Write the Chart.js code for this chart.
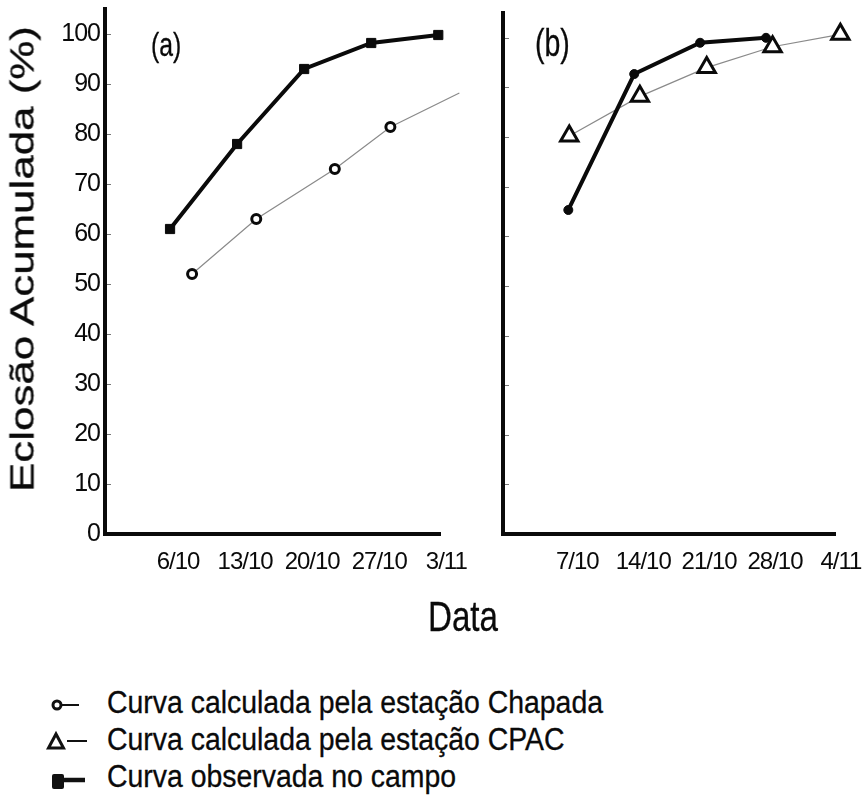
<!DOCTYPE html>
<html><head><meta charset="utf-8">
<script src="https://cdn.jsdelivr.net/npm/chart.js@4.4.1/dist/chart.umd.min.js"></script>
<style>
html,body{margin:0;padding:0;background:#fff;}
#wrap{position:relative;width:865px;height:798px;overflow:hidden;font-family:'Liberation Sans',Arial,sans-serif;color:#0a0a0a;}
canvas{position:absolute;top:0;}
#ca{left:0;width:480px;height:600px;}
#cb{left:480px;width:385px;height:600px;}
.lbl{position:absolute;white-space:nowrap;line-height:1;-webkit-text-stroke:0.3px #0a0a0a;}
#ytitle{font-size:33px;left:22px;top:259px;transform:translate(-50%,-50%) rotate(-90deg) scaleX(1.33);}
.leg{position:absolute;left:0;height:36px;width:700px;}
.leg svg{position:absolute;left:30px;top:0;}
.leg span{position:absolute;left:107px;top:0;font-size:31px;line-height:1;white-space:nowrap;transform-origin:0 0;-webkit-text-stroke:0.3px #0a0a0a;}
</style></head><body>
<div id="wrap">
 <canvas id="ca" width="480" height="600"></canvas>
 <canvas id="cb" width="385" height="600"></canvas>
 <div id="ytitle" class="lbl">Eclosão Acumulada (%)</div>
 <div class="lbl" style="left:151px;top:28px;font-size:33px;transform:scaleX(0.75);transform-origin:0 0">(a)</div>
 <div class="lbl" style="left:535px;top:24px;font-size:38px;transform:scaleX(0.75);transform-origin:0 0">(b)</div>
 <div class="lbl" style="left:463px;top:596px;font-size:42px;transform:translateX(-50%) scaleX(0.79)">Data</div>
 <div class="leg" style="top:687px"><svg width="70" height="36"><circle cx="27" cy="18" r="4" fill="#fff" stroke="#111" stroke-width="3"/><line x1="32" y1="18" x2="49" y2="18" stroke="#111" stroke-width="2"/></svg><span>Curva calculada pela estação Chapada</span></div>
 <div class="leg" style="top:724px"><svg width="70" height="36"><polygon points="26,10 33.5,24 18.5,24" fill="#fff" stroke="#111" stroke-width="3" stroke-linejoin="miter"/><line x1="37" y1="17" x2="57" y2="17" stroke="#111" stroke-width="2"/></svg><span>Curva calculada pela estação CPAC</span></div>
 <div class="leg" style="top:761px"><svg width="70" height="36"><rect x="22" y="13" width="12" height="15" rx="2" fill="#111"/><line x1="32" y1="19" x2="55" y2="19" stroke="#111" stroke-width="4.5"/></svg><span>Curva observada no campo</span></div>
</div>
<script>
// ---- data (x = day counted from 1 October) ----
const yTicks = [0, 10, 20, 30, 40, 50, 60, 70, 80, 90, 100];

const xTicksA = [6, 13, 20, 27, 34];
const xLabelsA = ['6/10', '13/10', '20/10', '27/10', '3/11'];
const obsDaysA = [6, 13, 20, 27, 34];
const obsA = [61, 78, 93, 98.2, 99.8];
const chapadaDays = [8.3, 15.0, 23.2, 29.0, 36.2];
const chapada = [52, 63, 73, 81.4, 88.2];

const xTicksB = [7, 14, 21, 28, 35];
const xLabelsB = ['7/10', '14/10', '21/10', '28/10', '4/11'];
const obsDaysB = [7, 14, 21, 28];
const obsB = [65.3, 92.7, 99, 100];
const cpacDays = [7.1, 14.6, 21.7, 28.7, 35.9];
const cpac = [80.2, 88.2, 94, 98.2, 100.7];

const FONT = "'Liberation Sans',Arial,sans-serif";
const INK = '#0a0a0a';

// legend text: condense to the width of the original
(function () {
  const spans = document.querySelectorAll('.leg span');
  const w = spans[0].getBoundingClientRect().width;
  const k = 496 / w;
  spans.forEach(s => { s.style.transform = 'scaleX(' + k + ')'; });
})();

function pts(xs, ys) { return xs.map((x, i) => ({ x: x, y: ys[i] })); }

const tightText = {
  id: 'tightText',
  beforeUpdate(chart) { chart.ctx.letterSpacing = '-1px'; },
  beforeDraw(chart) { chart.ctx.letterSpacing = '-1px'; }
};
const innerTicks = {
  id: 'innerTicks',
  afterDatasetsDraw(chart) {
    const y = chart.scales.y, a = chart.chartArea, ctx = chart.ctx;
    ctx.save();
    ctx.strokeStyle = '#777';
    ctx.lineWidth = 1;
    yTicks.forEach(v => {
      if (v === 0) return;
      const p = Math.round(y.getPixelForValue(v)) + 0.5;
      ctx.beginPath(); ctx.moveTo(a.left + 2, p); ctx.lineTo(a.left + 6, p); ctx.stroke();
    });
    ctx.restore();
  }
};

function yScale(width, showLabels) {
  return {
    type: 'linear', min: 0, max: 105,
    afterBuildTicks: s => { s.ticks = yTicks.map(v => ({ value: v })); },
    afterFit: s => { s.width = width; s.paddingTop = 0; s.paddingBottom = 0; },
    grid: { display: false, drawTicks: false },
    border: { display: true, color: INK, width: 4 },
    ticks: { display: showLabels, padding: 5, color: INK, font: { family: FONT, size: 25 } }
  };
}
function xScale(min, max, ticks, labels, offset) {
  return {
    type: 'linear', min: min, max: max,
    afterBuildTicks: s => { s.ticks = ticks.map(v => ({ value: v })); },
    afterFit: s => { s.height = 66; s.paddingLeft = 0; s.paddingRight = 0; },
    grid: { display: false, drawTicks: false },
    border: { display: true, color: INK, width: 4 },
    ticks: {
      padding: 14, labelOffset: offset, maxRotation: 0, autoSkip: false, color: INK,
      font: { family: FONT, size: 24 },
      callback: v => { const i = ticks.indexOf(v); return i >= 0 ? labels[i] : ''; }
    }
  };
}
const baseOpts = {
  responsive: false, animation: false, devicePixelRatio: 1,
  plugins: { legend: { display: false }, tooltip: { enabled: false } }
};

new Chart(document.getElementById('ca'), {
  type: 'line',
  data: {
    datasets: [
      { label: 'Curva observada no campo', data: pts(obsDaysA, obsA), borderColor: INK, borderWidth: 4,
        pointStyle: 'rect', pointRadius: 6.5, pointBackgroundColor: INK, pointBorderColor: INK, pointBorderWidth: 1, tension: 0, clip: false },
      { label: 'Curva calculada pela estação Chapada', data: pts(chapadaDays, chapada), borderColor: '#8a8a8a', borderWidth: 1.2,
        pointStyle: 'circle', pointRadius: 4.5, pointBackgroundColor: '#fff', pointBorderColor: INK, pointBorderWidth: 3, tension: 0, clip: false }
    ]
  },
  options: Object.assign({}, baseOpts, {
    layout: { padding: { left: 0, top: 9, right: 40, bottom: 0 } },
    scales: { x: xScale(-0.79, 34.18, xTicksA, xLabelsA, 8), y: yScale(105, true) }
  }),
  plugins: [tightText, innerTicks]
});

new Chart(document.getElementById('cb'), {
  type: 'line',
  data: {
    datasets: [
      { label: 'Curva observada no campo', data: pts(obsDaysB, obsB), borderColor: INK, borderWidth: 4,
        pointStyle: 'circle', pointRadius: 4.5, pointBackgroundColor: INK, pointBorderColor: INK, pointBorderWidth: 1, tension: 0, clip: false },
      { label: 'Curva calculada pela estação CPAC', data: pts(cpacDays, cpac), borderColor: '#8a8a8a', borderWidth: 1.2,
        pointStyle: 'triangle', pointRadius: 10, pointBackgroundColor: '#fff', pointBorderColor: INK, pointBorderWidth: 3, tension: 0, clip: false }
    ]
  },
  options: Object.assign({}, baseOpts, {
    layout: { padding: { left: 0, top: 9, right: 30, bottom: 0 } },
    scales: { x: xScale(0.06, 35.33, xTicksB, xLabelsB, 9), y: yScale(23, false) }
  }),
  plugins: [tightText, innerTicks]
});
</script>
</body></html>
